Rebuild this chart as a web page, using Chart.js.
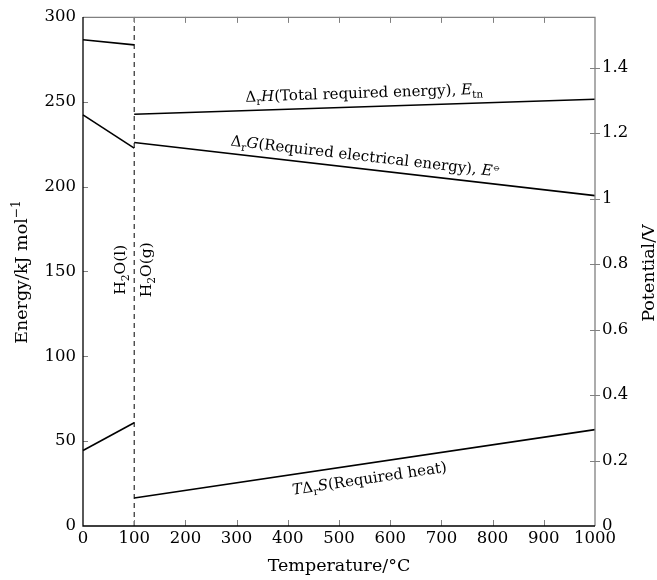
<!DOCTYPE html>
<html>
<head>
<meta charset="utf-8">
<script src="https://cdn.jsdelivr.net/npm/chart.js@4.4.1/dist/chart.umd.min.js"></script>
<style>
  html, body { margin: 0; padding: 0; background: #fff; }
  #wrap { width: 657px; height: 580px; }
</style>
</head>
<body>
<div id="wrap"><canvas id="chart" width="657" height="580"></canvas></div>
<script>
// temperatures (°C) of the two phases
const liquidT = [0, 100];
const gasT = [100, 1000];
// energies in kJ/mol
const dHLiquid = [286.5, 283.5];
const dHGas = [242.6, 251.5];
const dGLiquid = [242.3, 222.7];
const dGGas = [226.0, 194.7];
const tdSLiquid = [44.5, 60.8];
const tdSGas = [16.5, 56.8];
// phase change (boiling point)
const boilT = 100;
// axes
const xTicks = [0, 100, 200, 300, 400, 500, 600, 700, 800, 900, 1000];
const yTicks = [0, 50, 100, 150, 200, 250, 300];
const vTicks = [0, 0.2, 0.4, 0.6, 0.8, 1, 1.2, 1.4];
const F = 96.485; // kC/mol, E = ΔG / (2F)

const FONT = '"DejaVu Serif", "Liberation Serif", serif';

function pts(xs, ys) { return xs.map((x, i) => ({ x: x, y: ys[i] })); }

function lineSet(xs, ys) {
    return {
        data: pts(xs, ys),
        borderColor: '#000',
        borderWidth: 1.6,
        pointRadius: 0,
        fill: false,
        tension: 0,
        yAxisID: 'y'
    };
}

// draw text made of pieces (italic, subscript, superscript) centred at 0,0
function rich(ctx, parts, size) {
    const pieces = parts.map(p => {
        const s = (p.sub || p.sup) ? size * 0.7 : size;
        const f = (p.it ? 'italic ' : '') + s + 'px ' + FONT;
        ctx.font = f;
        return { t: p.t, f: f, w: ctx.measureText(p.t).width, dy: p.sub ? size * 0.25 : (p.sup ? -size * 0.4 : 0) };
    });
    const total = pieces.reduce((a, p) => a + p.w, 0);
    let x = -total / 2;
    ctx.textBaseline = 'alphabetic';
    ctx.textAlign = 'left';
    pieces.forEach(p => {
        ctx.font = p.f;
        ctx.fillText(p.t, x, p.dy);
        x += p.w;
    });
}

function drawAt(ctx, parts, size, x, y, angle) {
    ctx.save();
    ctx.translate(x, y);
    ctx.rotate(angle);
    ctx.fillStyle = '#000';
    rich(ctx, parts, size);
    ctx.restore();
}

// label placed along a segment, at temperature t, shifted by off px normal to the line
function lineLabel(chart, xs, ys, t, off, parts, size) {
    const sx = chart.scales.x, sy = chart.scales.y;
    const x0 = sx.getPixelForValue(xs[0]), y0 = sy.getPixelForValue(ys[0]);
    const x1 = sx.getPixelForValue(xs[1]), y1 = sy.getPixelForValue(ys[1]);
    const a = Math.atan2(y1 - y0, x1 - x0);
    const yt = ys[0] + (ys[1] - ys[0]) * (t - xs[0]) / (xs[1] - xs[0]);
    const px = sx.getPixelForValue(t), py = sy.getPixelForValue(yt);
    drawAt(chart.ctx, parts, size, px - Math.sin(a) * off, py + Math.cos(a) * off, a);
}

const decor = {
    id: 'decor',
    afterDatasetsDraw(chart) {
        const ctx = chart.ctx;
        const ca = chart.chartArea;
        const sx = chart.scales.x, sy = chart.scales.y, sv = chart.scales.y2;
        ctx.save();
        // frame: top and right in grey
        ctx.strokeStyle = '#808080';
        ctx.lineWidth = 1.3;
        ctx.beginPath();
        ctx.moveTo(ca.left, ca.top + 0.5);
        ctx.lineTo(ca.right, ca.top + 0.5);
        ctx.lineTo(ca.right, ca.bottom);
        ctx.stroke();
        // ticks
        ctx.lineWidth = 1;
        ctx.beginPath();
        yTicks.forEach(v => {
            if (v === 0 || v === 300) return;
            const y = Math.round(sy.getPixelForValue(v)) + 0.5;
            ctx.moveTo(ca.left, y); ctx.lineTo(ca.left + 5, y);
        });
        vTicks.forEach(v => {
            if (v === 0) return;
            const y = Math.round(sv.getPixelForValue(v)) + 0.5;
            ctx.moveTo(ca.right - 5, y); ctx.lineTo(ca.right + 5, y);
        });
        xTicks.forEach(v => {
            if (v === 0 || v === 1000) return;
            const x = Math.round(sx.getPixelForValue(v)) + 0.5;
            ctx.moveTo(x, ca.bottom); ctx.lineTo(x, ca.bottom - 6);
            ctx.moveTo(x, ca.top); ctx.lineTo(x, ca.top + 6);
        });
        ctx.stroke();
        // left and bottom axis lines in black
        ctx.strokeStyle = '#000';
        ctx.lineWidth = 1.3;
        ctx.beginPath();
        ctx.moveTo(ca.left, ca.top);
        ctx.lineTo(ca.left, ca.bottom);
        ctx.lineTo(ca.right, ca.bottom);
        ctx.stroke();

        // axis titles
        ctx.fillStyle = '#000';
        ctx.font = '17.5px ' + FONT;
        ctx.textAlign = 'center';
        ctx.textBaseline = 'alphabetic';
        ctx.fillText('Temperature/°C', (ca.left + ca.right) / 2, 571);
        drawAt(ctx, [{ t: 'Energy/kJ mol' }, { t: '−1', sup: true }], 17.5, 27, 272, -Math.PI / 2);
        drawAt(ctx, [{ t: 'Potential/V' }], 17.5, 654, 273, -Math.PI / 2);

        // phase labels
        const bx = sx.getPixelForValue(boilT);
        const my = sy.getPixelForValue(151);
        drawAt(ctx, [{ t: 'H' }, { t: '2', sub: true }, { t: 'O(l)' }], 15.5, bx - 9, my, -Math.PI / 2);
        drawAt(ctx, [{ t: 'H' }, { t: '2', sub: true }, { t: 'O(g)' }], 15.5, bx + 17, my, -Math.PI / 2);

        // line labels
        lineLabel(chart, gasT, dHGas, 550, -9,
            [{ t: 'Δ' }, { t: 'r', sub: true }, { t: 'H', it: true }, { t: '(Total required energy), ' },
             { t: 'E', it: true }, { t: 'tn', sub: true }], 15);
        lineLabel(chart, gasT, dGGas, 550, -8,
            [{ t: 'Δ' }, { t: 'r', sub: true }, { t: 'G', it: true }, { t: '(Required electrical energy), ' },
             { t: 'E', it: true }, { t: '⦵', sup: true }], 15);
        lineLabel(chart, gasT, tdSGas, 555, 20,
            [{ t: 'T', it: true }, { t: 'Δ' }, { t: 'r', sub: true }, { t: 'S', it: true }, { t: '(Required heat)' }], 15);
        ctx.restore();
    }
};

const ctx = document.getElementById('chart').getContext('2d');

const data = {
    datasets: [
        lineSet(liquidT, dHLiquid),
        lineSet(gasT, dHGas),
        lineSet(liquidT, dGLiquid),
        lineSet(gasT, dGGas),
        lineSet(liquidT, tdSLiquid),
        lineSet(gasT, tdSGas),
        {
            // phase boundary
            data: [{ x: boilT, y: yTicks[0] }, { x: boilT, y: yTicks[yTicks.length - 1] }],
            borderColor: '#000',
            borderWidth: 1,
            borderDash: [5, 4],
            pointRadius: 0,
            yAxisID: 'y'
        }
    ]
};

const tickFont = { family: FONT, size: 16.5 };
const plain = v => String(v);

const config = {
    type: 'line',
    data: data,
    options: {
        responsive: false,
        animation: false,
        clip: false,
        layout: { padding: { top: 15, left: 0, right: 0, bottom: 0 } },
        plugins: { legend: { display: false }, tooltip: { enabled: false } },
        scales: {
            x: {
                type: 'linear',
                min: 0, max: 1000,
                afterBuildTicks: s => { s.ticks = xTicks.map(v => ({ value: v })); },
                afterFit: s => { s.height = 54; },
                ticks: { font: tickFont, color: '#000', padding: 3, maxRotation: 0, callback: plain },
                grid: { display: false, drawTicks: false },
                border: { display: false }
            },
            y: {
                position: 'left',
                min: 0, max: 300,
                afterBuildTicks: s => { s.ticks = yTicks.map(v => ({ value: v })); },
                afterFit: s => { s.width = 83; },
                ticks: { font: tickFont, color: '#000', padding: 7, callback: plain },
                grid: { display: false, drawTicks: false },
                border: { display: false }
            },
            y2: {
                position: 'right',
                min: 0, max: 300 / (2 * F),
                afterBuildTicks: s => { s.ticks = vTicks.map(v => ({ value: v })); },
                afterFit: s => { s.width = 62; },
                ticks: { font: tickFont, color: '#000', padding: 7, callback: plain },
                grid: { display: false, drawTicks: false },
                border: { display: false }
            }
        }
    },
    plugins: [decor]
};

new Chart(ctx, config);
</script>
</body>
</html>
